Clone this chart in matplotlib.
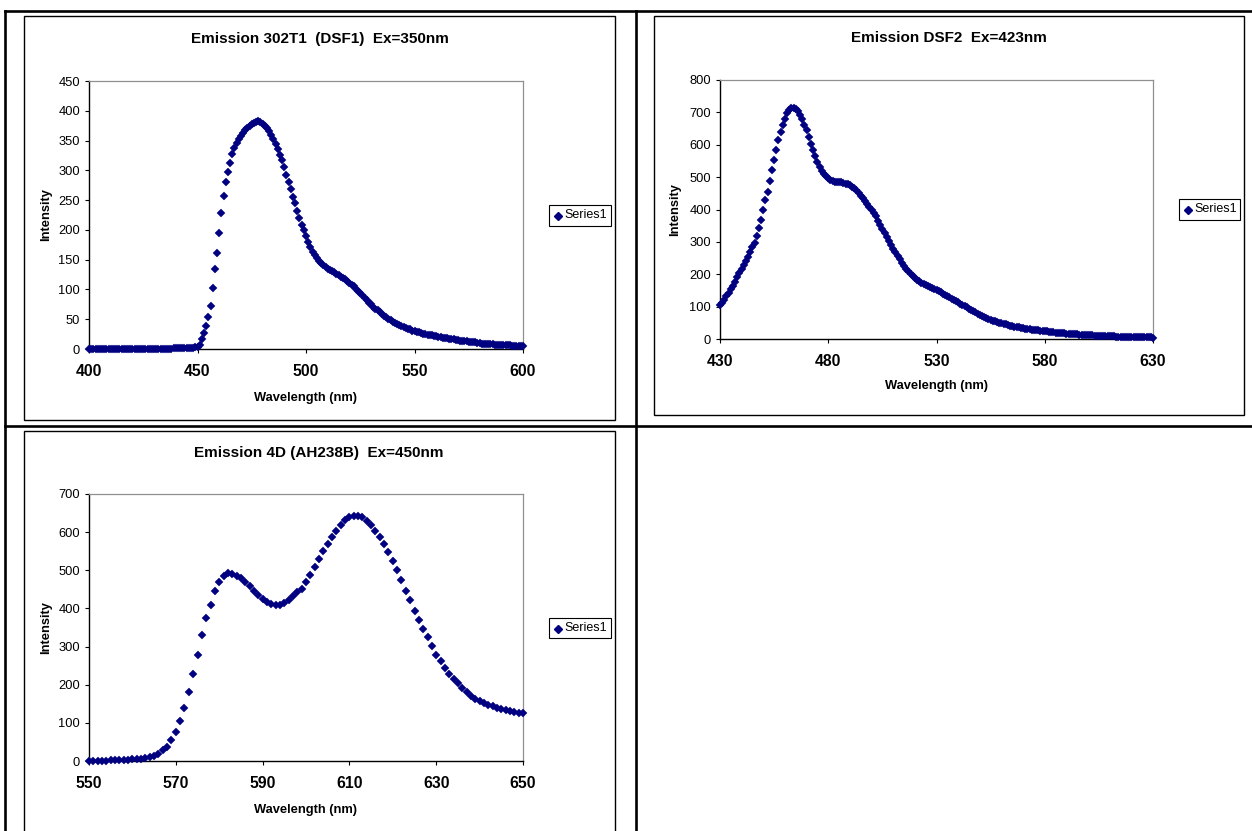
import numpy as np
import matplotlib
matplotlib.use("Agg")
import matplotlib.pyplot as plt
from matplotlib.patches import Rectangle
from matplotlib.lines import Line2D

plt.rcParams['font.family'] = ['Liberation Sans', 'DejaVu Sans']

# ---------------- data ----------------
wl1_start, wl1_end = 400, 600
int1 = [
    0, 0, 0, 0, 0, 0, 0, 0, 0, 0,            # 400-409
    0, 0, 0, 0, 0, 0, 0, 0, 0, 0,            # 410-419
    0, 0, 0, 0, 0, 0, 0, 0, 0, 0,            # 420-429
    0, 0, 0, 0, 0, 0, 0, 0, 0, 1,            # 430-439
    1, 1, 1, 1, 2, 2, 2, 2, 2, 3,            # 440-449
    4, 7, 16, 27, 38, 53, 73, 103, 135, 162,  # 450-459
    195, 228, 257, 280, 298, 312, 327, 338, 346, 353,  # 460-469
    358, 363, 367, 371, 374, 377, 380, 381, 383, 381,  # 470-479
    378, 375, 371, 366, 360, 352, 345, 335, 325, 318,  # 480-489
    305, 293, 280, 268, 256, 245, 232, 220, 208, 200,  # 490-499
    190, 180, 171, 163, 157, 152, 148, 145, 141, 138,  # 500-509
    135, 133, 131, 129, 126, 124, 121, 119, 117, 114,  # 510-519
    111, 108, 105, 101, 98, 94, 90, 86, 82, 78,        # 520-529
    75, 71, 68, 65, 62, 59, 56, 53, 51, 48,            # 530-539
    46, 44, 42, 40, 38, 37, 35, 34, 33, 31,            # 540-549
    30, 29, 28, 27, 26, 25, 24, 23, 23, 22,            # 550-559
    21, 20, 20, 19, 18, 18, 17, 16, 16, 15,            # 560-569
    15, 14, 14, 13, 13, 12, 12, 11, 11, 10,            # 570-579
    10, 9, 9, 9, 8, 8, 8, 7, 7, 7,                     # 580-589
    7, 6, 6, 6, 6, 5, 5, 5, 5, 5,                      # 590-599
    5,                                                 # 600
]

wl2_start, wl2_end = 430, 630
int2 = [
    105, 110, 120, 132, 143, 153, 164, 176, 190, 203,  # 430-439
    216, 228, 240, 254, 268, 283, 298, 318, 343, 368,  # 440-449
    399, 430, 455, 487, 522, 553, 583, 615, 640, 661,  # 450-459
    680, 697, 706, 712, 715, 711, 704, 692, 678, 662,  # 460-469
    645, 625, 603, 584, 564, 547, 531, 518, 510, 502,  # 470-479
    496, 492, 489, 486, 485, 484, 484, 482, 480, 478,  # 480-489
    475, 471, 465, 459, 451, 443, 435, 426, 417, 408,  # 490-499
    398, 389, 379, 366, 353, 340, 327, 314, 302, 290,  # 500-509
    279, 268, 257, 246, 236, 226, 217, 209, 202, 195,  # 510-519
    189, 183, 178, 174, 170, 166, 163, 160, 156, 153,  # 520-529
    150, 147, 144, 140, 137, 133, 129, 125, 121, 117,  # 530-539
    113, 109, 105, 101, 98, 94, 90, 86, 82, 78,        # 540-549
    75, 72, 69, 65, 62, 59, 57, 55, 53, 50,            # 550-559
    48, 46, 45, 43, 41, 40, 38, 37, 36, 34,            # 560-569
    33, 32, 31, 30, 29, 28, 27, 27, 26, 25,            # 570-579
    25, 24, 23, 22, 21, 20, 20, 19, 18, 17,            # 580-589
    16, 16, 15, 15, 14, 14, 13, 13, 12, 12,            # 590-599
    11, 11, 11, 10, 10, 10, 9, 9, 9, 8,                # 600-609
    8, 8, 8, 7, 7, 7, 7, 7, 6, 6,                      # 610-619
    6, 6, 6, 6, 5, 5, 5, 5, 5, 5,                      # 620-629
    4,                                                 # 630
]

wl3_start, wl3_end = 550, 650
int3 = [
    0, 1, 1, 1, 1, 2, 2, 2, 3, 3,                      # 550-559
    4, 4, 5, 7, 10, 14, 19, 28, 38, 56,                # 560-569
    77, 105, 140, 181, 228, 277, 330, 376, 410, 445,   # 570-579
    468, 485, 493, 491, 486, 479, 469, 458, 447, 436,  # 580-589
    426, 418, 412, 409, 410, 415, 423, 432, 442, 452,  # 590-599
    468, 488, 508, 530, 551, 570, 586, 604, 618, 632,  # 600-609
    640, 643, 643, 639, 630, 618, 603, 586, 568, 548,  # 610-619
    524, 500, 474, 446, 421, 393, 370, 346, 324, 302,  # 620-629
    278, 261, 244, 229, 215, 204, 191, 182, 171, 162,  # 630-639
    156, 151, 146, 143, 139, 136, 134, 131, 129, 127,  # 640-649
    125,                                               # 650
]

titles = ["Emission 302T1  (DSF1)  Ex=350nm",
          "Emission DSF2  Ex=423nm",
          "Emission 4D (AH238B)  Ex=450nm"]
xticks1 = [400, 450, 500, 550, 600]
xticks2 = [430, 480, 530, 580, 630]
xticks3 = [550, 570, 590, 610, 630, 650]
yticks1 = list(range(0, 451, 50))
yticks2 = list(range(0, 801, 100))
yticks3 = list(range(0, 701, 100))
series_name = "Series1"
xlabel = "Wavelength (nm)"
ylabel = "Intensity"

# ---------------- layout ----------------
W, H = 1252, 831
fig = plt.figure(figsize=(W / 100, H / 100), dpi=100)


def rect(x0, y0, x1, y1):
    return [x0 / W, 1 - y1 / H, (x1 - x0) / W, (y1 - y0) / H]


def fx(x):
    return x / W


def fy(y):
    return 1 - y / H


# table grid lines
tlw = 1.9
for (xa, ya, xb, yb) in [(5, 11, 1252, 11), (5, 426, 1252, 426),
                         (5, 11, 5, 831), (636, 11, 636, 831)]:
    fig.add_artist(Line2D([fx(xa), fx(xb)], [fy(ya), fy(yb)],
                          transform=fig.transFigure, color='black', lw=tlw))

# chart boxes
for (x0, y0, x1, y1) in [(24, 16, 615, 420), (654, 16, 1244, 415), (24, 431, 615, 840)]:
    fig.add_artist(Rectangle((fx(x0), fy(y1)), (x1 - x0) / W, (y1 - y0) / H,
                             transform=fig.transFigure, fill=False,
                             edgecolor='black', lw=1.0))

charts = [
    dict(wl=(wl1_start, wl1_end), y=int1, ax=(89, 81, 523, 349), xt=xticks1, yt=yticks1,
         title=titles[0], tpos=(320, 39), xl=(306, 398), yl=(46, 215),
         leg=(549, 205, 611, 226)),
    dict(wl=(wl2_start, wl2_end), y=int2, ax=(720, 80, 1153, 339), xt=xticks2, yt=yticks2,
         title=titles[1], tpos=(949, 38), xl=(936, 386), yl=(675, 210),
         leg=(1179, 199, 1240, 220)),
    dict(wl=(wl3_start, wl3_end), y=int3, ax=(89, 494, 523, 761), xt=xticks3, yt=yticks3,
         title=titles[2], tpos=(319, 453), xl=(306, 810), yl=(46, 628),
         leg=(549, 618, 611, 638)),
]

navy = '#000080'
msize = 4.2
for c in charts:
    ax = fig.add_axes(rect(*c['ax']))
    wl = np.arange(c['wl'][0], c['wl'][1] + 1)
    ax.plot(wl, c['y'], linestyle='none', marker='D', markersize=msize,
            color=navy, markeredgewidth=0.3, clip_on=False, zorder=3)
    ax.set_xlim(c['xt'][0], c['xt'][-1])
    ax.set_ylim(c['yt'][0], c['yt'][-1])
    ax.set_xticks(c['xt'])
    ax.set_yticks(c['yt'])
    ax.tick_params(axis='y', direction='out', length=3, width=0.8, pad=3.5,
                   labelsize=9.3, colors='black')
    ax.tick_params(axis='x', direction='out', length=3, width=0.8, pad=8,
                   labelsize=11.3, colors='black')
    for lab in ax.get_xticklabels():
        lab.set_fontweight('bold')
    for s in ['top', 'right']:
        ax.spines[s].set_color('#909090')
        ax.spines[s].set_linewidth(0.9)
    for s in ['left', 'bottom']:
        ax.spines[s].set_color('black')
        ax.spines[s].set_linewidth(1.0)
    ax.set_facecolor('white')

    fig.text(fx(c['tpos'][0]), fy(c['tpos'][1]), c['title'], ha='center', va='center',
             fontsize=11, fontweight='bold')
    fig.text(fx(c['xl'][0]), fy(c['xl'][1]), xlabel, ha='center', va='center',
             fontsize=9.3, fontweight='bold')
    fig.text(fx(c['yl'][0]), fy(c['yl'][1]), ylabel, ha='center', va='center',
             fontsize=9.3, fontweight='bold', rotation=90)

    # legend box
    lx0, ly0, lx1, ly1 = c['leg']
    fig.add_artist(Rectangle((fx(lx0), fy(ly1)), (lx1 - lx0) / W, (ly1 - ly0) / H,
                             transform=fig.transFigure, fill=True, facecolor='white',
                             edgecolor='black', lw=0.8))
    ymid = (ly0 + ly1) / 2
    fig.add_artist(Line2D([fx(lx0 + 9)], [fy(ymid + 0.5)], transform=fig.transFigure,
                          linestyle='none', marker='D', markersize=3.6, color=navy))
    fig.text(fx(lx0 + 15), fy(ymid), series_name, ha='left', va='center', fontsize=9)

fig.savefig('out.png', dpi=100, facecolor='white')
